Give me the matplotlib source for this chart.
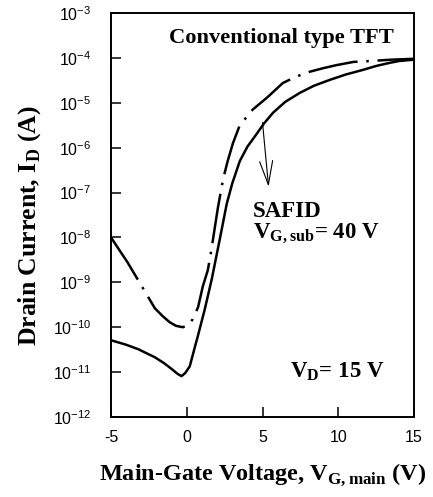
import numpy as np
import matplotlib
matplotlib.use("Agg")
from matplotlib import pyplot as plt
from matplotlib.ticker import LogLocator, NullLocator, FixedLocator

# values (gate voltage in V, log10 of drain current in A)
v_safid = [-5.0, -4.0, -3.2, -2.1, -1.5, -1.0, -0.6, -0.35, -0.1, 0.2, 0.45, 0.73,
           1.19, 1.65, 2.18, 2.64, 3.0, 3.5, 4.0, 4.6, 5.1, 5.7, 6.5, 7.46, 8.4,
           9.44, 10.5, 11.6, 12.5, 13.4, 14.0, 15.0]
log_id_safid = [-10.29, -10.39, -10.49, -10.67, -10.80, -10.93, -11.04, -11.09, -11.02,
                -10.87, -10.55, -10.20, -9.60, -8.93, -8.04, -7.25, -6.80, -6.30,
                -5.98, -5.70, -5.46, -5.22, -4.98, -4.78, -4.62, -4.49, -4.37, -4.27,
                -4.18, -4.11, -4.07, -4.04]

v_conv = [-5.0, -3.9, -2.77, -2.1, -1.6, -1.12, -0.7, -0.26, 0.1, 0.4, 0.75, 1.06,
          1.39, 1.6, 2.05, 2.4, 2.7, 3.05, 3.5, 4.36, 5.35, 6.34, 7.2, 8.1, 9.0, 9.9,
          11.0, 12.1, 13.5, 15.0]
log_id_conv = [-8.0, -8.56, -9.2, -9.58, -9.75, -9.89, -9.97, -10.0, -9.95, -9.82,
               -9.55, -9.09, -8.73, -8.33, -7.35, -6.70, -6.30, -5.90, -5.50, -5.15,
               -4.87, -4.56, -4.42, -4.31, -4.23, -4.16, -4.09, -4.07, -4.04, -4.02]

arrow_v = [5.0, 5.4]
arrow_log_id = [-5.44, -6.87]

xticks = [-5, 0, 5, 10, 15]

plt.rcParams["axes.unicode_minus"] = False
plt.rcParams["mathtext.fontset"] = "custom"
plt.rcParams["mathtext.rm"] = "Liberation Serif:bold"
plt.rcParams["mathtext.bf"] = "Liberation Serif:bold"

serif = dict(family="Liberation Serif", weight="bold")

fig = plt.figure(figsize=(4.33, 4.97), dpi=100)
ax = fig.add_axes([111 / 433, 80 / 497, 303 / 433, 404 / 497])

ax.plot(v_safid, 10.0 ** np.array(log_id_safid), color="black", lw=1.8)
ax.plot(v_conv, 10.0 ** np.array(log_id_conv), color="black", lw=1.8,
        linestyle=(0, (20, 3.5, 1, 3.5)))

ax.annotate("", xy=(arrow_v[1], 10 ** arrow_log_id[1]),
            xytext=(arrow_v[0], 10 ** arrow_log_id[0]),
            arrowprops=dict(arrowstyle="->,head_length=1.7,head_width=0.47",
                            lw=0.8, color="black", shrinkA=0, shrinkB=0,
                            mutation_scale=10))

ax.set_yscale("log")
ax.set_xlim(-5, 15)
ax.set_ylim(1e-12, 1e-3)
ax.yaxis.set_major_locator(LogLocator(base=10, numticks=20))
ax.yaxis.set_minor_locator(NullLocator())
ax.xaxis.set_major_locator(FixedLocator(xticks))

for s in ax.spines.values():
    s.set_linewidth(1.4)
ax.tick_params(direction="in", length=7, width=1.1, top=False, right=False,
               labelsize=11.5)
ax.tick_params(axis="x", pad=9)
ax.tick_params(axis="y", pad=14)
for lab in ax.get_xticklabels() + ax.get_yticklabels():
    lab.set_family("Liberation Sans")

ax.set_xlabel(r"Main-Gate Voltage, V$_{\mathrm{G,main}}$ (V)", fontsize=17.5,
              labelpad=12, **serif)
ax.set_ylabel(r"Drain Current, I$_{\mathrm{D}}$ (A)", fontsize=18.5,
              labelpad=7, **serif)
ax.yaxis.label.set_y(0.475)

ax.text(0.561, 0.926, "Conventional type TFT", transform=ax.transAxes,
        ha="center", va="baseline", fontsize=16.2, **serif)
ax.text(0.469, 0.495, "SAFID", transform=ax.transAxes,
        ha="left", va="baseline", fontsize=16.5, **serif)
ax.text(0.469, 0.445, r"V$_{\mathrm{G,sub}}$= 40 V", transform=ax.transAxes,
        ha="left", va="baseline", fontsize=16.5, **serif)
ax.text(0.591, 0.099, r"V$_{\mathrm{D}}$= 15 V", transform=ax.transAxes,
        ha="left", va="baseline", fontsize=16.5, **serif)

fig.savefig("out.png", dpi=100)
